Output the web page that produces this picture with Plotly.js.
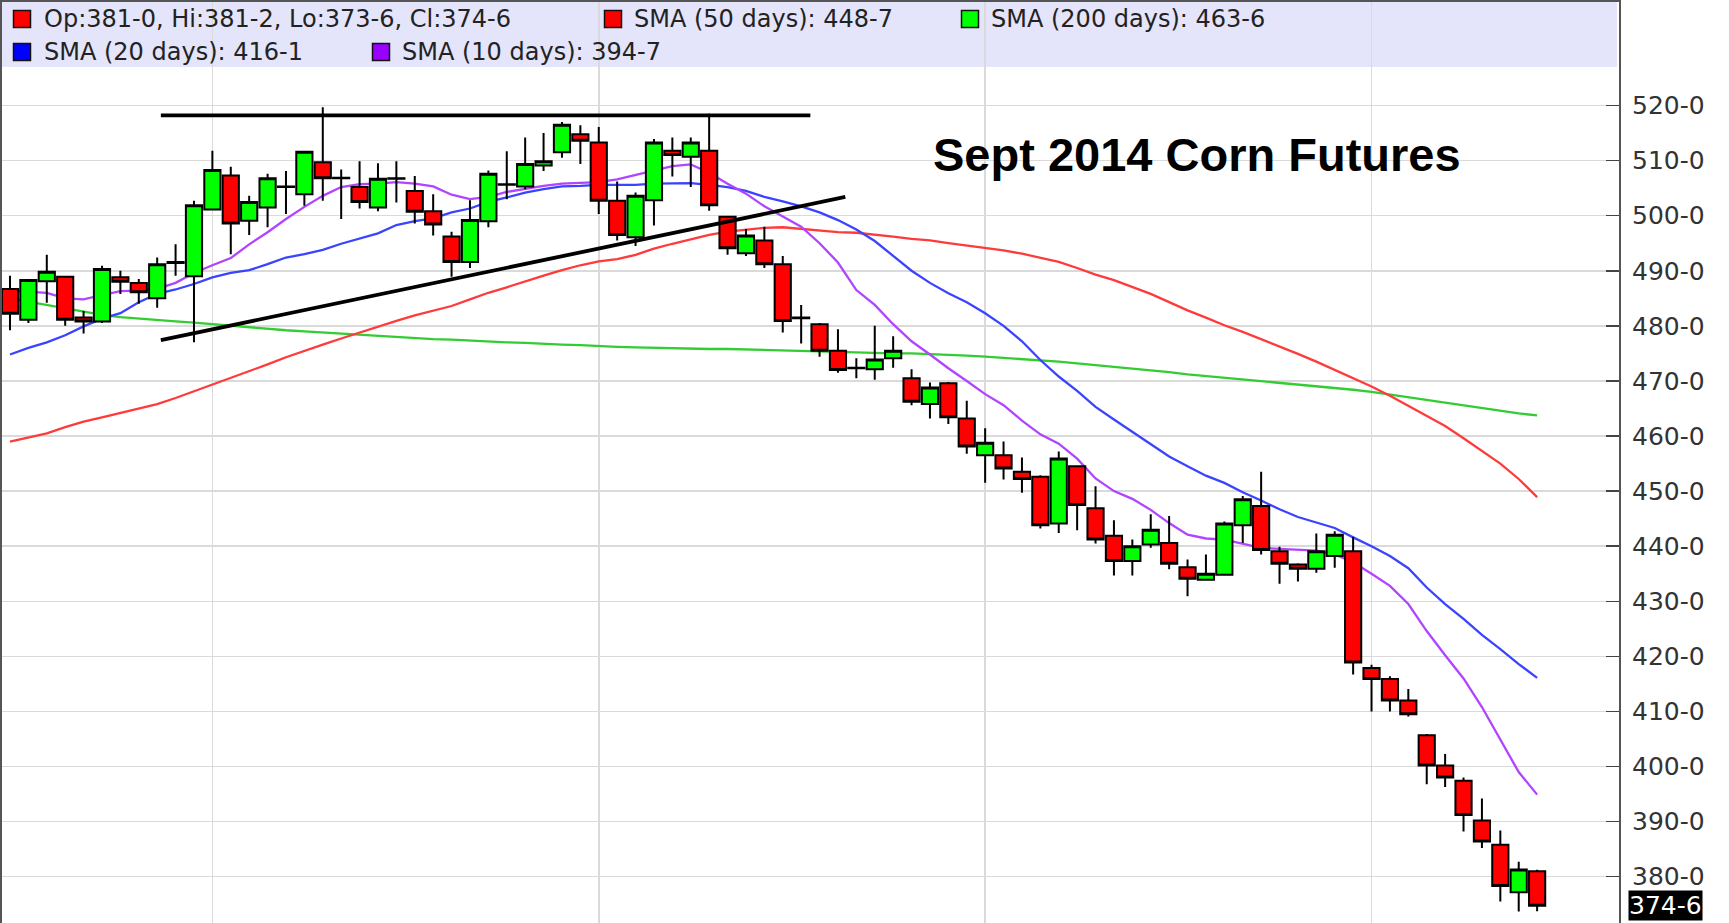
<!DOCTYPE html>
<html>
<head>
<meta charset="utf-8">
<script src="https://cdn.plot.ly/plotly-3.0.1.min.js"></script>
<style>html,body{margin:0;padding:0;background:#fff;}#chart{width:1729px;height:923px;}</style>
</head>
<body>
<div id="chart"></div>
<script>
// ---- Data ----
var openP = [486.7,481.1,488.1,488.9,481.5,480.8,488.8,487.8,485.0,491.4,
  489.0,501.1,507.3,499.1,501.5,505.2,503.9,509.7,506.8,505.2,
  501.5,506.7,504.5,500.8,496.2,491.6,499.0,505.6,505.3,509.1,
  511.5,514.8,513.3,502.7,496.1,502.8,511.8,510.7,511.8,499.8,
  493.2,495.5,491.2,481.4,480.3,475.5,472.3,472.1,474.1,470.5,
  465.8,469.6,463.2,456.5,456.5,453.5,452.6,444.1,454.5,446.9,
  441.9,437.3,440.3,440.6,436.2,433.9,434.8,443.8,447.3,439.1,
  436.7,435.9,438.2,439.1,417.9,415.9,412.0,405.7,400.2,397.4,
  390.2,385.8,377.2,381.0];
var highP = [489.1,488.5,492.9,489.0,482.7,490.9,490.0,488.5,492.4,494.8,
  502.7,511.8,508.9,503.6,507.6,508.1,511.6,519.7,508.4,509.9,
  509.5,509.9,507.2,503.9,497.1,502.8,508.2,511.7,514.2,515.0,
  517.0,516.4,516.1,506.2,504.2,513.9,514.2,514.2,518.5,499.8,
  497.6,498.0,492.7,483.8,480.5,479.4,474.1,480.0,478.1,472.1,
  469.7,469.8,466.4,461.4,459.0,456.1,452.9,457.2,454.7,450.9,
  444.7,441.2,445.8,445.5,437.6,438.5,444.5,449.1,453.5,439.9,
  436.9,442.3,442.7,441.7,418.5,416.4,414.1,405.9,402.3,398.0,
  394.2,388.4,382.7,381.25];
var lowP = [479.2,480.5,484.2,480.0,478.6,480.5,485.8,484.0,483.3,489.1,
  477.0,501.0,493.0,496.5,497.9,500.3,501.8,502.7,499.4,501.3,
  500.8,502.4,498.6,496.4,488.9,490.5,497.9,503.0,504.8,508.1,
  510.5,509.4,500.3,495.5,494.5,498.2,507.1,505.2,500.9,492.9,
  492.7,490.5,478.8,476.8,474.4,471.5,470.5,470.2,472.4,465.6,
  463.2,462.2,456.8,451.5,452.1,449.7,443.2,442.4,442.9,440.5,
  434.7,434.7,439.7,435.8,430.9,433.8,434.8,440.6,438.5,433.2,
  433.6,435.2,436.1,416.7,410.0,410.0,409.1,396.8,396.3,388.2,
  385.2,375.5,373.7,373.75];
var closeP = [482.2,488.3,489.8,481.1,480.8,490.3,488.0,486.1,491.2,491.6,
  501.9,508.3,498.6,502.5,506.8,505.3,511.6,506.8,506.9,502.5,
  506.7,506.8,500.7,498.4,491.6,499.2,507.6,505.7,509.4,509.9,
  516.5,513.6,502.7,496.5,503.6,513.3,511.0,513.3,501.9,494.1,
  496.4,491.2,480.9,481.5,475.5,472.0,472.4,473.9,475.5,466.2,
  468.8,463.4,458.1,458.8,454.1,452.2,443.8,455.9,447.5,441.2,
  437.3,440.0,443.0,436.8,434.1,435.0,444.1,448.5,439.3,436.8,
  435.9,439.1,442.1,418.9,415.9,412.0,409.5,400.2,398.0,391.2,
  386.4,378.3,381.3,374.75];

var sma10 = [486.4,486.2,486.0,485.0,484.8,485.6,486.3,486.4,486.7,487.8,
  489.6,491.0,492.3,494.8,497.0,499.4,501.6,503.6,505.2,505.7,
  505.8,506.1,505.8,505.3,503.8,503.0,503.4,504.3,504.9,505.4,
  505.8,505.9,506.1,506.6,507.4,508.3,509.0,509.3,507.8,505.8,
  504.0,501.7,499.8,498.0,495.0,491.5,486.5,483.8,480.3,477.2,
  474.8,472.3,470.0,467.6,465.6,462.8,460.3,458.6,455.9,452.3,
  450.0,448.6,446.6,444.2,442.1,441.4,441.2,440.5,439.7,439.5,
  439.3,439.2,438.5,437.1,435.0,432.8,429.5,424.6,420.2,416.0,
  410.8,404.8,399.0,394.9];
var sma20 = [474.8,476.0,477.0,478.3,479.9,481.3,482.3,484.3,485.8,486.6,
  487.6,488.8,489.6,490.1,491.2,492.4,493.0,493.8,494.9,495.8,
  496.8,498.3,499.0,499.5,500.6,501.3,502.5,503.3,504.2,504.8,
  505.3,505.4,505.6,505.6,505.6,505.8,505.9,505.9,505.6,505.2,
  504.5,503.4,502.6,501.7,500.6,499.2,497.5,495.4,492.7,490.0,
  487.8,485.9,484.3,482.3,480.0,477.2,473.8,470.8,468.2,465.3,
  463.0,460.8,458.6,456.3,454.5,452.8,451.5,449.8,448.3,446.7,
  445.3,444.3,443.3,441.6,440.0,438.2,436.0,432.5,429.5,426.8,
  423.9,421.3,418.6,416.1];
var sma50 = [459.0,459.8,460.5,461.6,462.6,463.4,464.2,465.0,465.8,466.9,
  468.1,469.3,470.6,471.8,473.0,474.3,475.5,476.6,477.7,478.8,
  479.9,480.9,481.9,482.7,483.6,484.8,486.0,487.0,488.1,489.1,
  490.1,491.0,491.7,492.1,492.9,494.0,494.9,495.7,496.5,497.1,
  497.5,497.8,497.9,497.6,497.3,497.0,496.9,496.6,496.2,495.8,
  495.5,495.0,494.6,494.2,493.7,493.1,492.4,491.6,490.5,489.3,
  488.3,487.0,485.8,484.3,482.8,481.5,480.1,478.9,477.6,476.2,
  474.9,473.5,472.0,470.6,469.0,467.3,465.5,463.7,461.8,459.6,
  457.3,455.0,452.2,448.9];
var sma200 = [485.0,484.4,483.8,483.1,482.5,482.0,481.6,481.3,481.0,480.8,
  480.6,480.3,480.0,479.8,479.5,479.2,479.0,478.8,478.5,478.3,
  478.2,478.0,477.8,477.6,477.5,477.3,477.2,477.0,476.9,476.7,
  476.6,476.5,476.3,476.2,476.1,476.0,475.9,475.9,475.8,475.8,
  475.7,475.7,475.6,475.5,475.4,475.3,475.2,475.1,475.0,475.0,
  474.9,474.8,474.6,474.4,474.2,474.0,473.8,473.5,473.2,472.9,
  472.6,472.2,471.9,471.6,471.2,470.9,470.6,470.3,470.0,469.7,
  469.4,469.1,468.7,468.4,468.0,467.5,467.0,466.5,466.1,465.5,
  465.0,464.6,464.1,463.75];

// Trendlines drawn on the chart (bar index, price)
var resistX = [8.2, 43.5];
var resistY = [518.2, 518.2];
var supportX = [8.2, 45.4];
var supportY = [477.4, 503.4];

// Axis ticks
var yTickVals = [380,390,400,410,420,430,440,450,460,470,480,490,500,510,520];
var yTickText = ["380-0","390-0","400-0","410-0","420-0","430-0","440-0","450-0","460-0","470-0","480-0","490-0","500-0","510-0","520-0"];
var monthGridIdx = [11, 32, 53, 74];
var lastPriceVal = 374.75;
var lastPriceText = "374-6";

// Header legend labels
var legendLabels = ["Op:381-0, Hi:381-2, Lo:373-6, Cl:374-6", "SMA (50 days): 448-7", "SMA (200 days): 463-6", "SMA (20 days): 416-1", "SMA (10 days): 394-7"];
var chartTitle = "Sept 2014 Corn Futures";

// ---- Styling / layout ----
var W = 1729, H = 923, PLOT_W = 1619;
var xRange = [-0.543, 87.45];
var yRange = [371.6, 539.15];
var idx = openP.map(function(_, i){ return i; });

function px(x){ return x / PLOT_W; }
function py(y){ return 1 - y / H; }

var COL = {red:'#ff0000', green:'#00ff00', sma50:'#ff3a3a', sma200:'#33cc33', sma20:'#3a44ff', sma10:'#b044ff'};

var traces = [
  {type:'scatter', mode:'lines', x:idx, y:sma200, line:{color:COL.sma200, width:2.3}, hoverinfo:'skip', xaxis:'x', yaxis:'y'},
  {type:'scatter', mode:'lines', x:idx, y:sma50, line:{color:COL.sma50, width:2.3}, hoverinfo:'skip', xaxis:'x', yaxis:'y'},
  {type:'scatter', mode:'lines', x:idx, y:sma20, line:{color:COL.sma20, width:2.3}, hoverinfo:'skip', xaxis:'x', yaxis:'y'},
  {type:'scatter', mode:'lines', x:idx, y:sma10, line:{color:COL.sma10, width:2.3}, hoverinfo:'skip', xaxis:'x', yaxis:'y'},
  {type:'candlestick', x:idx, open:openP, high:highP, low:lowP, close:closeP,
   xaxis:'x2', yaxis:'y2', whiskerwidth:0,
   increasing:{line:{color:'#000', width:2}, fillcolor:COL.green},
   decreasing:{line:{color:'#000', width:2}, fillcolor:COL.red},
   hoverinfo:'skip'},
  {type:'scatter', mode:'lines', x:resistX, y:resistY, line:{color:'#000', width:3.8}, xaxis:'x2', yaxis:'y2', hoverinfo:'skip'},
  {type:'scatter', mode:'lines', x:supportX, y:supportY, line:{color:'#000', width:3.8}, xaxis:'x2', yaxis:'y2', hoverinfo:'skip'}
];

var legendFont = {family:'DejaVu Sans', size:24, color:'#222'};
var legendItems = [
  {sq:22, tx:42, y:19, color:COL.red, label:legendLabels[0]},
  {sq:613, tx:632, y:19, color:COL.red, label:legendLabels[1]},
  {sq:970, tx:989, y:19, color:COL.green, label:legendLabels[2]},
  {sq:22, tx:42, y:52, color:'#0000ff', label:legendLabels[3]},
  {sq:381, tx:400, y:52, color:'#9900ff', label:legendLabels[4]}
];

var shapes = [
  {type:'rect', xref:'paper', yref:'paper', x0:0, x1:px(1617), y0:py(67), y1:1, fillcolor:'#e4e4fa', line:{width:0}, layer:'below'},
  {type:'line', xref:'paper', yref:'paper', x0:0, x1:1, y0:1, y1:1, line:{color:'#555', width:4}},
  {type:'line', xref:'paper', yref:'paper', x0:0, x1:0, y0:0, y1:1, line:{color:'#555', width:4}}
];
var annotations = [];
legendItems.forEach(function(it){
  var s = 8.5;
  shapes.push({type:'rect', xref:'paper', yref:'paper', x0:px(it.sq - s), x1:px(it.sq + s), y0:py(it.y + s), y1:py(it.y - s), fillcolor:it.color, line:{color:'#111', width:1.5}});
  annotations.push({xref:'paper', yref:'paper', x:px(it.tx), y:py(it.y), xanchor:'left', yanchor:'middle', text:it.label, showarrow:false, font:legendFont});
});
annotations.push({xref:'paper', yref:'y', x:px(1628), y:lastPriceVal, xanchor:'left', yanchor:'middle', text:lastPriceText, showarrow:false,
  bgcolor:'#000', borderpad:0, font:{family:'DejaVu Sans', size:25, color:'#fff'}});

var layout = {
  width:W, height:H,
  margin:{l:0, r:W - PLOT_W, t:0, b:0, pad:0},
  paper_bgcolor:'#fff', plot_bgcolor:'#fff',
  showlegend:false, dragmode:false,
  boxgap:0.12, boxgroupgap:0,
  title:{text:chartTitle, xref:'container', yref:'container', x:933/W, xanchor:'left', y:1 - 155/H, yanchor:'middle',
    font:{family:'Liberation Sans', size:47, color:'#000', weight:'bold'}},
  xaxis:{range:xRange, tickvals:monthGridIdx, showticklabels:false, ticks:'', showgrid:true, gridcolor:'#dadada', gridwidth:1.5,
    zeroline:false, showline:false, rangeslider:{visible:false}, fixedrange:true},
  yaxis:{range:yRange, side:'right', tickvals:yTickVals, ticktext:yTickText, ticks:'inside', ticklen:13, tickwidth:1.5, tickcolor:'#444',
    showline:true, linecolor:'#555', linewidth:2, showgrid:true, gridcolor:'#dadada', gridwidth:1.5, zeroline:false,
    tickfont:{family:'DejaVu Sans', size:25, color:'#333'}, ticklabelstandoff:6, fixedrange:true},
  xaxis2:{overlaying:'x', range:xRange, visible:false, showgrid:false, zeroline:false, rangeslider:{visible:false}, fixedrange:true},
  yaxis2:{overlaying:'y', range:yRange, visible:false, showgrid:false, zeroline:false, fixedrange:true},
  shapes:shapes,
  annotations:annotations
};

Plotly.newPlot('chart', traces, layout, {staticPlot:true, displayModeBar:false});
</script>
</body>
</html>
